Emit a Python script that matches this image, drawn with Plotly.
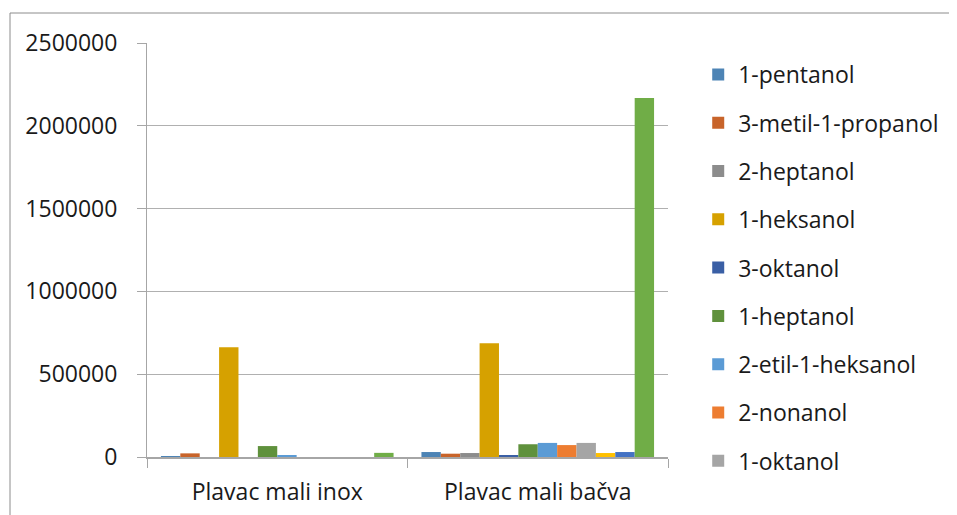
import plotly.graph_objects as go

# categories (wines) and the alcohols measured in them
categories = ['Plavac mali inox', 'Plavac mali bačva']

series_names = ['1-pentanol', '3-metil-1-propanol', '2-heptanol', '1-heksanol',
                '3-oktanol', '1-heptanol', '2-etil-1-heksanol', '2-nonanol',
                '1-oktanol', '1-nonanol', '1-dekanol', '2-feniletanol']

pentanol = [5000, 30000]
metil_propanol = [22000, 20000]
heptanol_2 = [0, 24000]
heksanol = [662000, 687000]
oktanol_3 = [0, 10000]
heptanol_1 = [66000, 77000]
etil_heksanol = [12000, 85000]
nonanol_2 = [0, 72000]
oktanol_1 = [0, 85000]
nonanol_1 = [0, 24000]
dekanol = [0, 30000]
feniletanol = [25000, 2168000]

values = [pentanol, metil_propanol, heptanol_2, heksanol, oktanol_3, heptanol_1,
          etil_heksanol, nonanol_2, oktanol_1, nonanol_1, dekanol, feniletanol]

colors = ['#4D84B5', '#C8642A', '#8C8C8C', '#D6A100', '#3A5FA5', '#5F913C',
          '#5B9BD5', '#ED7D31', '#A5A5A5', '#FFC000', '#4472C4', '#70AD47']

FONT = 'Open Sans'

fig = go.Figure()
for i, (name, vals, col) in enumerate(zip(series_names, values, colors)):
    fig.add_trace(go.Bar(
        x=categories, y=vals, name=name,
        marker=dict(color=col, line=dict(width=0)),
        legendgroup=name,
        showlegend=i < 9,  # legend in the original is cut off after 9 items
    ))

# outer chart border: only left and top edges are visible in the original
x_left = (10 - 147) / 521
y_top = 1 + 30 / 414
border = dict(color='#8c8c8c', width=1)

# page body has an 8px margin, so the plot box is shifted by that much
fig.update_layout(
    width=957, height=515,
    margin=dict(l=139, r=297, t=35, b=66),
    plot_bgcolor='white', paper_bgcolor='white',
    barmode='group', bargap=0.107, bargroupgap=0,
    font=dict(family=FONT, size=23, color='#1a1a1a'),
    legend=dict(x=1.058, y=0.976, xanchor='left', yanchor='top',
                font=dict(family=FONT, size=23, color='#1a1a1a'),
                tracegroupgap=15.4, itemwidth=30, maxheight=515),
    shapes=[
        dict(type='line', xref='paper', yref='paper', x0=x_left, x1=1.7,
             y0=y_top, y1=y_top, line=border, layer='below'),
        dict(type='line', xref='paper', yref='paper', x0=x_left, x1=x_left,
             y0=-0.3, y1=y_top, line=border, layer='below'),
    ],
)

fig.update_yaxes(range=[0, 2500000], dtick=500000, tickformat='d',
                 showgrid=True, gridcolor='#b0b0b0', gridwidth=1,
                 showline=True, linecolor='#a6a6a6', linewidth=1,
                 ticks='outside', ticklen=9, tickcolor='#a6a6a6',
                 zeroline=False, ticklabelstandoff=15)
fig.update_xaxes(showline=True, linecolor='#a6a6a6', linewidth=1.5,
                 ticks='outside', ticklen=9, tickcolor='#a6a6a6',
                 tickson='boundaries', showgrid=False, ticklabelstandoff=14)

fig.write_html("out.html")
